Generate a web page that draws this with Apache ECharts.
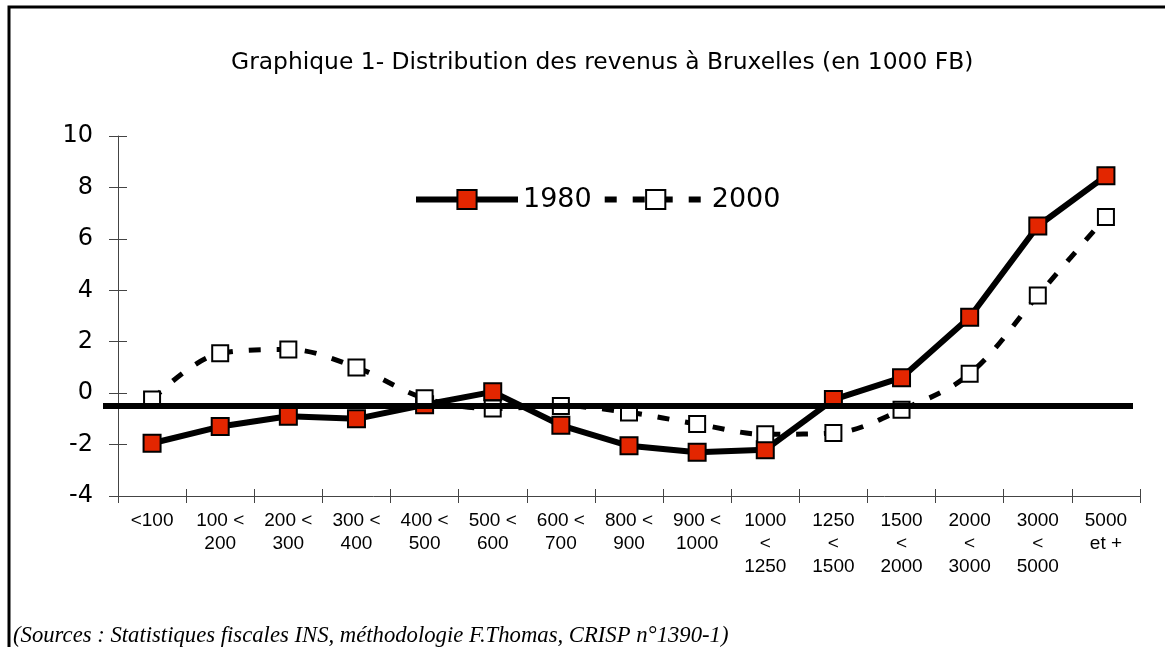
<!DOCTYPE html>
<html>
<head>
<meta charset="utf-8">
<title>Distribution des revenus à Bruxelles</title>
<script src="https://cdn.jsdelivr.net/npm/echarts@6/dist/echarts.min.js"></script>
<style>
  html, body { margin: 0; padding: 0; background: #fff; }
  #chart { width: 1165px; height: 647px; }
</style>
</head>
<body>
<div id="chart"></div>
<script>
var categories = ['<100', '100 <\n200', '200 <\n300', '300 <\n400', '400 <\n500', '500 <\n600',
    '600 <\n700', '800 <\n900', '900 <\n1000', '1000\n<\n1250', '1250\n<\n1500',
    '1500\n<\n2000', '2000\n<\n3000', '3000\n<\n5000', '5000\net +'];
var values1980 = [-1.95, -1.3, -0.9, -1.0, -0.45, 0.05, -1.25, -2.05, -2.3, -2.2, -0.25, 0.6, 2.95, 6.5, 8.45];
var values2000 = [-0.25, 1.55, 1.7, 1.0, -0.2, -0.6, -0.5, -0.75, -1.2, -1.6, -1.55, -0.65, 0.75, 3.8, 6.85];
var refValue = -0.5;

var chart = echarts.init(document.getElementById('chart'));

var redSquare = {
    color: '#e32600',
    borderColor: '#000',
    borderWidth: 2
};
var whiteSquare = {
    color: '#fff',
    borderColor: '#000',
    borderWidth: 2
};

var option = {
    backgroundColor: '#fff',
    animation: false,
    title: [{
        text: 'Graphique 1- Distribution des revenus à Bruxelles (en 1000 FB)',
        left: 226,
        top: 46,
        textStyle: { fontFamily: 'DejaVu Sans', fontSize: 23.4, fontWeight: 'normal', color: '#000' }
    }, {
        text: '(Sources : Statistiques fiscales INS, méthodologie F.Thomas, CRISP n°1390-1)',
        left: 8,
        top: 620,
        textStyle: { fontFamily: 'Liberation Serif', fontStyle: 'italic', fontSize: 22.7, fontWeight: 'normal', color: '#000' }
    }],
    legend: {
        left: 408,
        top: 181,
        itemWidth: 102,
        itemHeight: 24,
        itemGap: 10,
        lineStyle: { width: 6 },
        textStyle: { fontFamily: 'DejaVu Sans', fontSize: 27, color: '#000' },
        data: ['1980', '2000']
    },
    grid: { left: 118, right: 25, top: 136, bottom: 151 },
    xAxis: [{
        type: 'category',
        data: categories,
        boundaryGap: true,
        axisLine: { onZero: false, lineStyle: { color: '#444', width: 1 } },
        axisTick: { show: true, length: 7, lineStyle: { color: '#444' } },
        axisLabel: {
            interval: 0,
            margin: 13,
            fontFamily: 'Liberation Sans',
            fontSize: 19,
            lineHeight: 23,
            color: '#000'
        },
        splitLine: { show: false }
    }, {
        type: 'category',
        data: categories,
        position: 'bottom',
        boundaryGap: true,
        axisLine: { show: false, onZero: false },
        axisTick: { show: true, inside: true, length: 7, lineStyle: { color: '#444' } },
        axisLabel: { show: false },
        splitLine: { show: false }
    }],
    yAxis: [{
        type: 'value',
        min: -4,
        max: 10,
        interval: 2,
        axisLine: { show: true, onZero: false, lineStyle: { color: '#444', width: 1 } },
        axisTick: { show: true, length: 9, lineStyle: { color: '#444' } },
        axisLabel: { margin: 25, fontFamily: 'DejaVu Sans', fontSize: 24, color: '#000' },
        splitLine: { show: false }
    }, {
        type: 'value',
        min: -4,
        max: 10,
        interval: 2,
        position: 'left',
        axisLine: { show: false, onZero: false },
        axisTick: { show: true, inside: true, length: 9, lineStyle: { color: '#444' } },
        axisLabel: { show: false },
        splitLine: { show: false }
    }],
    graphic: [{
        type: 'polyline',
        shape: { points: [[9, 647], [9, 7], [1165, 7]] },
        style: { stroke: '#000', lineWidth: 3, fill: null },
        silent: true
    }],
    series: [{
        name: '1980',
        type: 'line',
        data: values1980,
        symbol: 'rect',
        symbolSize: 17,
        lineStyle: { color: '#000', width: 6 },
        itemStyle: redSquare,
        z: 3
    }, {
        name: '2000',
        type: 'line',
        data: values2000,
        smooth: 0.35,
        symbol: 'rect',
        symbolSize: 16,
        lineStyle: { color: '#000', width: 5, type: [12, 16] },
        itemStyle: whiteSquare,
        z: 4,
        markLine: {
            silent: true,
            symbol: 'none',
            label: { show: false },
            lineStyle: { color: '#000', width: 6, type: 'solid' },
            data: [[{ x: 103, yAxis: refValue }, { x: 1133, yAxis: refValue }]]
        }
    }]
};

chart.setOption(option);
</script>
</body>
</html>
